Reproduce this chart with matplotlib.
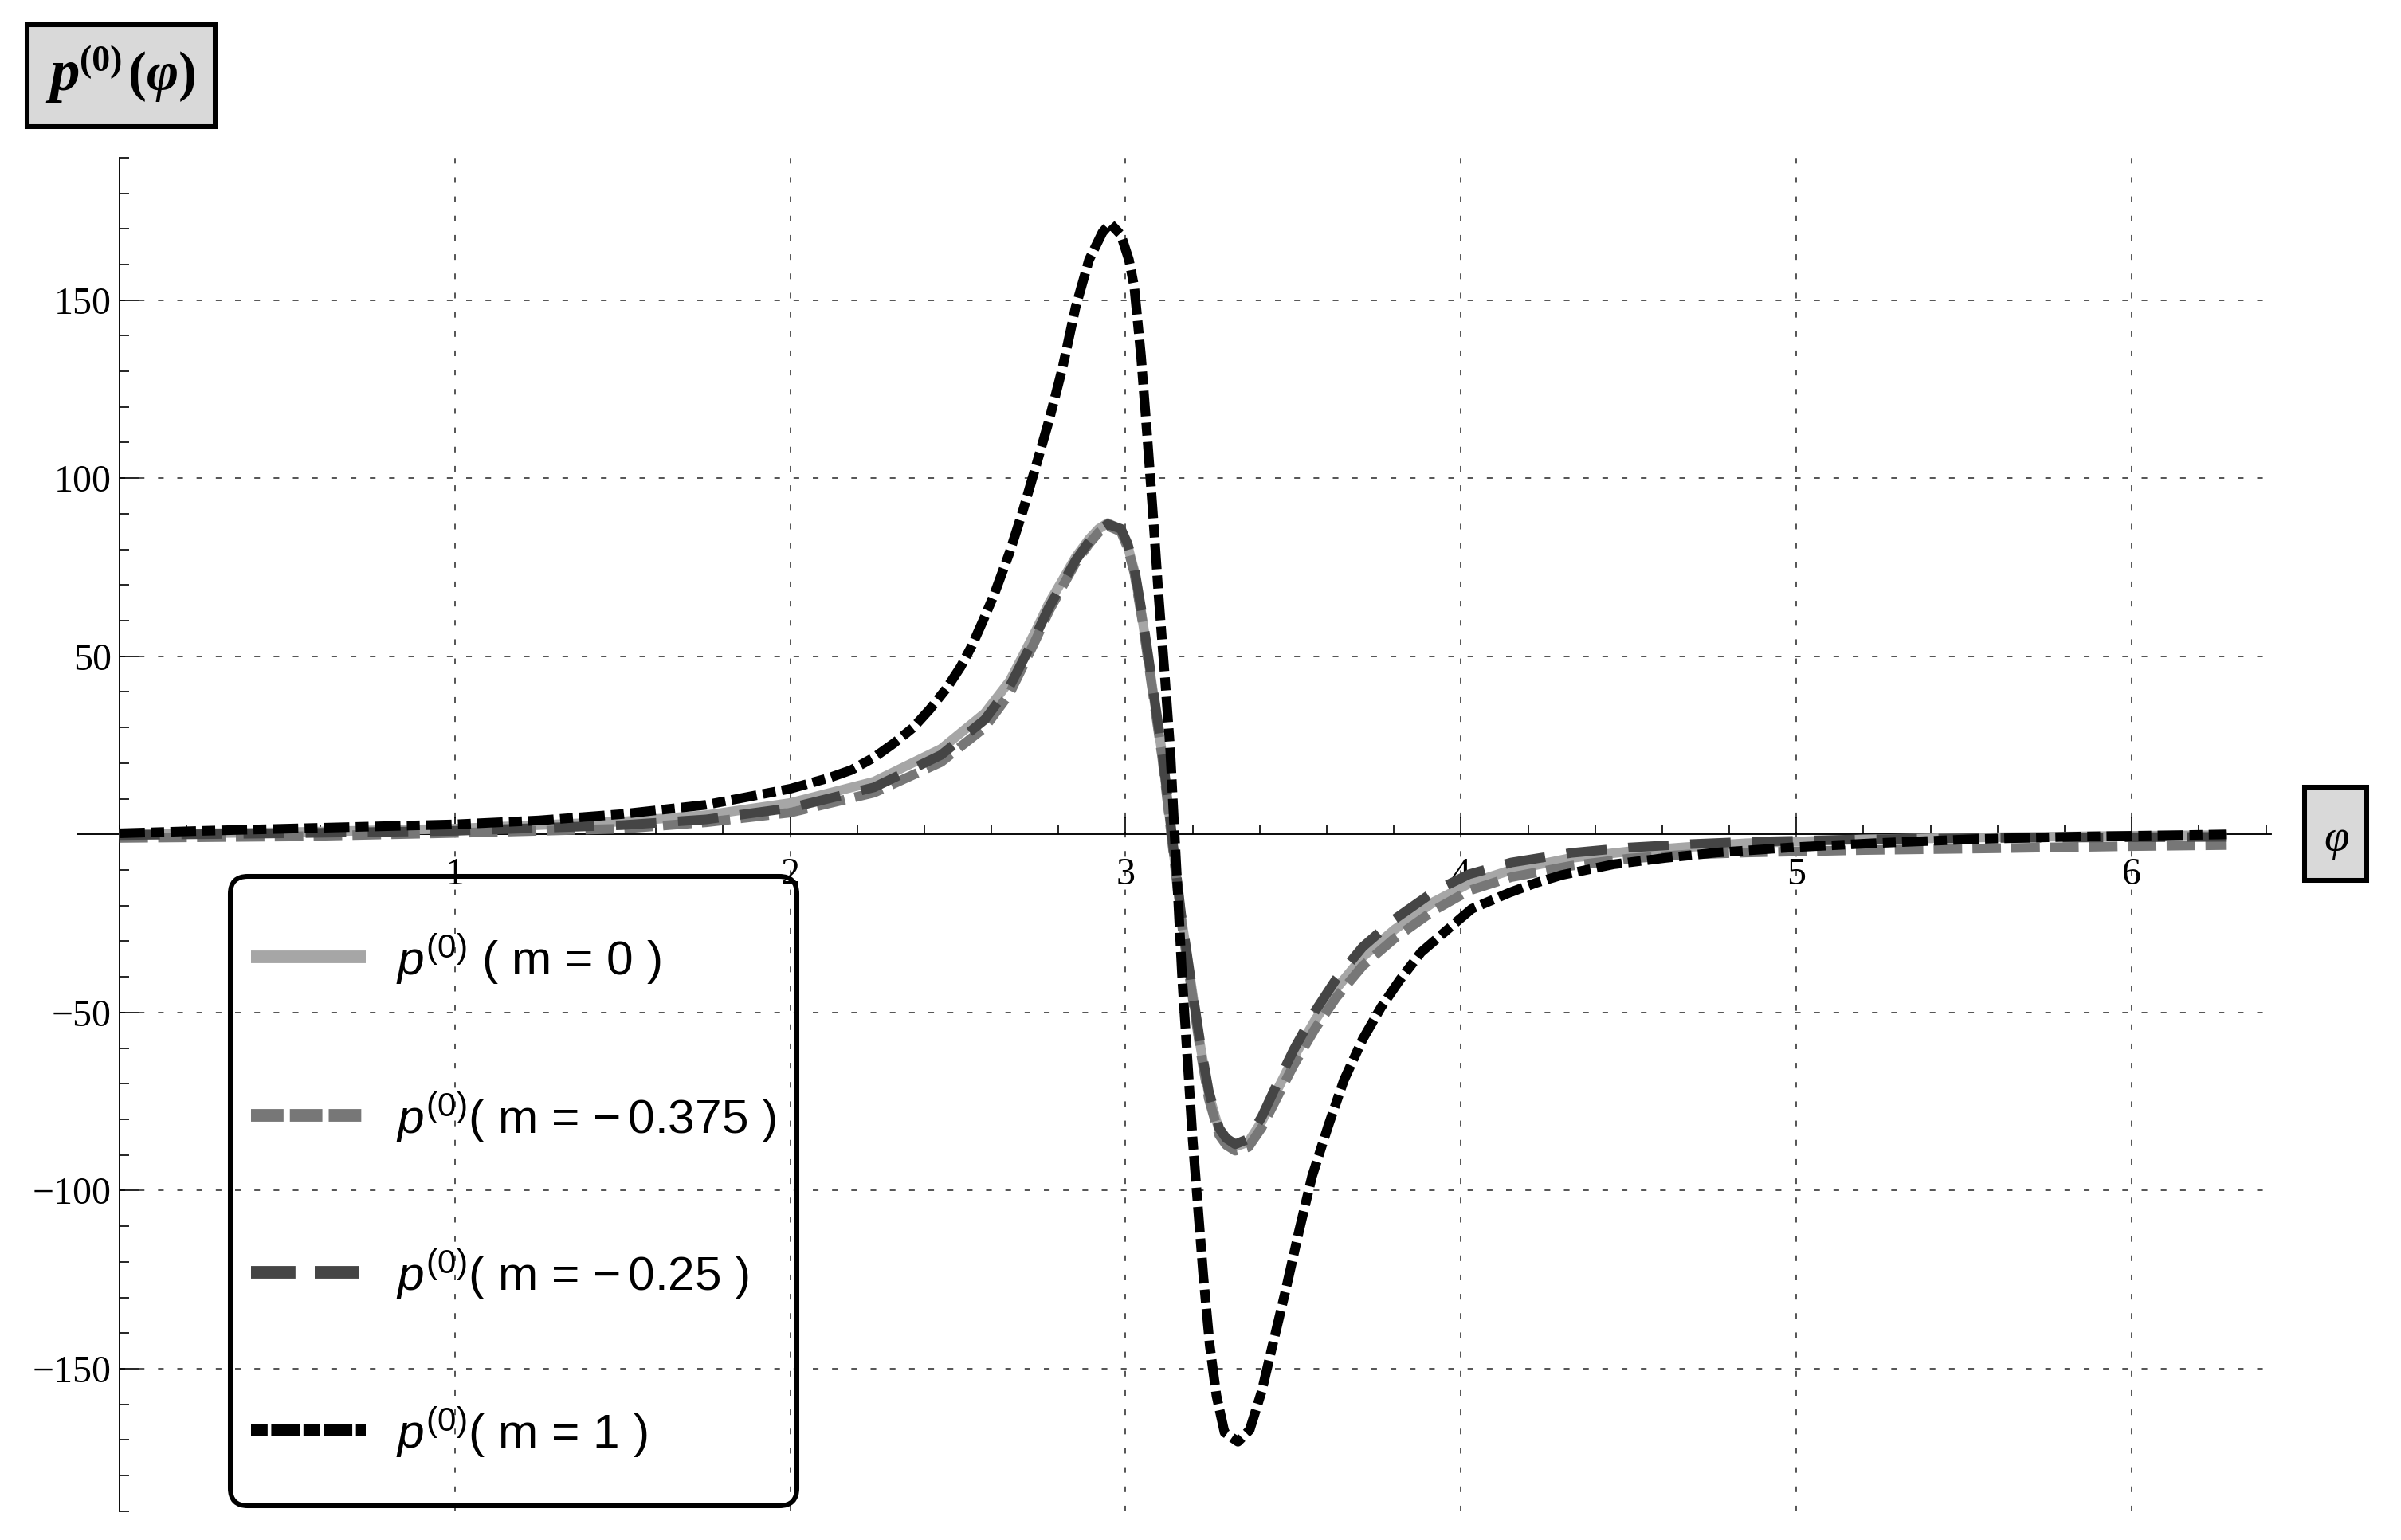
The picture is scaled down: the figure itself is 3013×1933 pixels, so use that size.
import matplotlib
matplotlib.use('Agg')
import matplotlib.pyplot as plt
from matplotlib.patches import FancyBboxPatch, Rectangle
from matplotlib.lines import Line2D
from matplotlib.ticker import MultipleLocator
from matplotlib.transforms import Affine2D

plt.rcParams['mathtext.fontset'] = 'custom'
plt.rcParams['mathtext.it'] = 'Liberation Sans:italic'
plt.rcParams['mathtext.rm'] = 'Liberation Sans'
plt.rcParams['mathtext.bf'] = 'Liberation Sans:bold'
plt.rcParams['lines.scale_dashes'] = False

W, H, DPI = 3013, 1933, 300

# значения
phi_m1 = [0.0, 0.25, 0.5, 0.75, 1.0, 1.25, 1.5, 1.75, 2.0, 2.117, 2.183, 2.25, 2.308, 2.367, 2.417,
          2.467, 2.508, 2.542, 2.575, 2.608, 2.654, 2.693, 2.733, 2.772, 2.812, 2.851, 2.891, 2.931,
          2.954, 2.986, 3.010, 3.026, 3.046, 3.065, 3.083, 3.099, 3.117, 3.133, 3.145, 3.157, 3.169,
          3.185, 3.200, 3.216, 3.232, 3.251, 3.271, 3.295, 3.335, 3.370, 3.406, 3.438, 3.477, 3.517,
          3.556, 3.604, 3.651, 3.707, 3.762, 3.818, 3.881, 3.960, 4.032, 4.146, 4.224, 4.301, 4.455,
          4.610, 4.764, 4.996, 5.228, 5.538, 5.846, 6.156, 6.283]
p_m1 = [0.3, 1.0, 1.6, 2.2, 2.8, 3.9, 5.7, 8.3, 12.8, 15.9, 18.1, 21.6, 25.5, 30.0, 35.2,
        41.1, 47.0, 53.0, 60.0, 67.3, 79.1, 90.6, 103.5, 116.3, 131.0, 148.0, 161.3, 169.0,
        171.5, 168.3, 161.3, 153.6, 134.3, 111.2, 88.1, 66.3, 44.4, 23.9, 2.1, -18.9, -40.8,
        -63.9, -85.7, -105.0, -124.2, -143.5, -157.6, -167.9, -170.5, -167.2, -156.3, -143.5, -128.1, -111.4,
        -96.0, -81.9, -69.0, -57.5, -48.5, -40.8, -33.1, -26.7, -20.9, -16.3, -13.6, -11.4, -8.4,
        -6.6, -5.1, -3.6, -2.5, -1.3, -0.6, -0.2, 0.0]

phi_gray = [0.0, 0.5, 1.0, 1.5, 1.75, 2.0, 2.25, 2.45, 2.58, 2.654, 2.693, 2.733, 2.772, 2.812, 2.851,
            2.891, 2.92, 2.947, 2.986, 3.006, 3.026, 3.049, 3.069, 3.089, 3.109, 3.125, 3.141, 3.165,
            3.185, 3.204, 3.224, 3.248, 3.279, 3.30, 3.327, 3.366, 3.406, 3.453, 3.501, 3.564, 3.628,
            3.707, 3.802, 3.920, 4.024, 4.15, 4.33, 4.50, 4.67, 4.85, 5.2, 5.6, 6.0, 6.283]
p_m0 = [0.0, 0.6, 1.6, 3.6, 5.4, 8.8, 14.8, 24.0, 34.0, 43.0, 50.0, 57.3, 65.0, 71.4, 77.8,
        82.9, 85.8, 87.4, 85.5, 81.0, 74.0, 61.1, 48.3, 35.4, 22.6, 9.8, -3.1, -22.6,
        -35.4, -47.5, -60.0, -72.9, -83.1, -85.8, -87.6, -86.4, -80.6, -71.6, -62.6, -52.3, -43.3,
        -34.4, -26.7, -18.9, -13.8, -10.0, -6.6, -4.8, -3.6, -2.5, -1.4, -0.8, -0.4, -0.2]
p_m025 = [-0.2, 0.3, 1.0, 2.6, 4.2, 7.4, 13.2, 22.3, 32.2, 41.5, 48.6, 56.0, 63.8, 70.4, 76.9,
          82.2, 85.4, 87.1, 85.8, 81.6, 74.8, 62.0, 49.2, 36.2, 23.4, 10.5, -2.4, -22.0,
          -34.8, -46.9, -59.3, -72.1, -82.5, -85.3, -87.0, -85.5, -79.3, -69.8, -60.5, -49.8, -40.6,
          -31.6, -23.8, -16.0, -11.2, -7.9, -5.2, -3.7, -2.8, -2.1, -1.4, -1.0, -0.8, -0.7]
p_m0375 = [-1.0, -0.6, 0.4, 1.6, 3.4, 6.1, 11.7, 20.3, 30.0, 39.5, 47.0, 54.8, 62.8, 69.6, 76.2,
           81.6, 84.8, 86.6, 85.0, 80.5, 73.4, 60.5, 47.6, 34.6, 21.8, 9.0, -4.0, -23.5,
           -36.4, -48.5, -61.2, -74.2, -84.4, -87.2, -88.8, -87.8, -82.3, -73.6, -64.8, -54.7, -45.8,
           -36.9, -29.2, -21.3, -15.8, -12.0, -8.8, -6.8, -5.7, -5.1, -4.4, -3.9, -3.3, -3.0]

x_ticks = [1, 2, 3, 4, 5, 6]
x_tick_labels = ['1', '2', '3', '4', '5', '6']
y_ticks = [-150, -100, -50, 50, 100, 150]
y_tick_labels = ['\u2212150', '\u2212100', '\u221250', '50', '100', '150']
legend_labels = [r'$p^{(0)}$ ( m = 0 )',
                 r'$p^{(0)}$( m = $-\,$0.375 )',
                 r'$p^{(0)}$( m = $-\,$0.25 )',
                 r'$p^{(0)}$( m = 1 )']

# стили кривых
c_m0, c_m0375, c_m025, c_m1 = '#a6a6a6', '#777777', '#454545', '#000000'
ls_m0375 = (0, (8.6, 3.1))
ls_m025 = (0, (12.2, 6.5))
ls_m1 = (0, (7.7, 1.9, 3.9, 1.9))
lw = 2.9

fig = plt.figure(figsize=(W / DPI, H / DPI), dpi=DPI)
px = Affine2D().scale(1.0 / W, 1.0 / H) + fig.transFigure

x_left, x_right = -0.1254, 6.4153
ax_l, ax_r = 97, 2850
ax_top, ax_bot = 197.8, 1896.8
ax = fig.add_axes([ax_l / W, 1 - ax_bot / H, (ax_r - ax_l) / W, (ax_bot - ax_top) / H])
ax.set_xlim(x_left, x_right)
ax.set_ylim(-190, 190)
ax.patch.set_visible(False)

for s in ['top', 'right']:
    ax.spines[s].set_visible(False)
ax.spines['left'].set_position(('data', 0))
ax.spines['bottom'].set_position(('data', 0))
for s in ['left', 'bottom']:
    ax.spines[s].set_linewidth(0.45)

# сетка
grid_ls = (0, (1.7, 4.1))
ax.hlines(y_ticks, 0, x_right, colors='#4d4d4d', linestyles=[grid_ls], linewidth=0.45, zorder=1)
ax.vlines(x_ticks, -190, 190, colors='#4d4d4d', linestyles=[grid_ls], linewidth=0.45, zorder=1)

# кривые
ax.plot(phi_gray, p_m0, color=c_m0, lw=lw, solid_capstyle='butt', zorder=3)
ax.plot(phi_gray, p_m0375, color=c_m0375, lw=lw, linestyle=ls_m0375, zorder=4)
ax.plot(phi_gray, p_m025, color=c_m025, lw=lw, linestyle=ls_m025, zorder=5)
ax.plot(phi_m1, p_m1, color=c_m1, lw=lw, linestyle=ls_m1, zorder=6)

# оси и подписи делений
ax.set_xticks(x_ticks, labels=x_tick_labels, fontfamily='Liberation Serif', fontsize=11.5)
ax.set_yticks(y_ticks, labels=y_tick_labels, fontfamily='Liberation Serif', fontsize=11.5)
ax.xaxis.set_minor_locator(MultipleLocator(0.2))
ax.yaxis.set_minor_locator(MultipleLocator(10))
ax.tick_params(axis='x', which='major', direction='in', length=5.0, width=0.4, pad=7)
ax.tick_params(axis='x', which='minor', direction='in', length=2.9, width=0.4)
ax.tick_params(axis='y', which='major', direction='in', length=5.8, width=0.4, pad=2.4)
ax.tick_params(axis='y', which='minor', direction='in', length=2.9, width=0.4)

# подпись оси y (рамка слева сверху)
fig.add_artist(Rectangle((34, H - 159), 236, 128, transform=px, facecolor='#d9d9d9',
                         edgecolor='black', linewidth=1.45))
renderer = fig.canvas.get_renderer()
pieces = [('p', 18, 'italic', 0, 1),
          ('(0)', 11, 'normal', 24, 7),
          ('(', 16.5, 'normal', 0, 0),
          ('\u03c6', 16.5, 'italic', 0, 0),
          (')', 16.5, 'normal', 0, 0)]
cx = 62
for s, size, style, dy, gap in pieces:
    t = fig.text(cx, H - 113 + dy, s, transform=px, fontsize=size, fontstyle=style,
                 fontweight='bold', fontfamily='Liberation Serif', va='baseline', ha='left')
    cx += t.get_window_extent(renderer=renderer).width + gap

# подпись оси x
fig.add_artist(Rectangle((2892, H - 1105), 78, 117, transform=px, facecolor='#d9d9d9',
                         edgecolor='black', linewidth=1.45))
fig.text(2932, H - 1068, '\u03c6', transform=px, fontsize=13.7, fontstyle='italic',
         fontfamily='Liberation Serif', ha='center', va='baseline')

# легенда
fig.add_artist(FancyBboxPatch((289, H - 1890), 711, 790, transform=px,
                              boxstyle='round,pad=0,rounding_size=22', facecolor='none',
                              edgecolor='black', linewidth=1.45, zorder=7))
leg_rows = [1201, 1400, 1597, 1795]
leg_colors = [c_m0, c_m0375, c_m025, c_m1]
leg_styles = ['-', (0, (9.8, 1.9)), (0, (13.4, 5.8)), (0, (5.0, 1.1, 8.6, 1.1))]
for yc, col, ls, lab in zip(leg_rows, leg_colors, leg_styles, legend_labels):
    fig.add_artist(Line2D([315, 459], [H - yc, H - yc], transform=px, color=col, lw=3.8,
                          linestyle=ls, solid_capstyle='butt', dash_capstyle='butt'))
    fig.text(497, H - yc - 23, lab, transform=px, fontsize=14.5, fontfamily='Liberation Sans',
             va='baseline', ha='left')

fig.savefig('out.png', dpi=DPI)
